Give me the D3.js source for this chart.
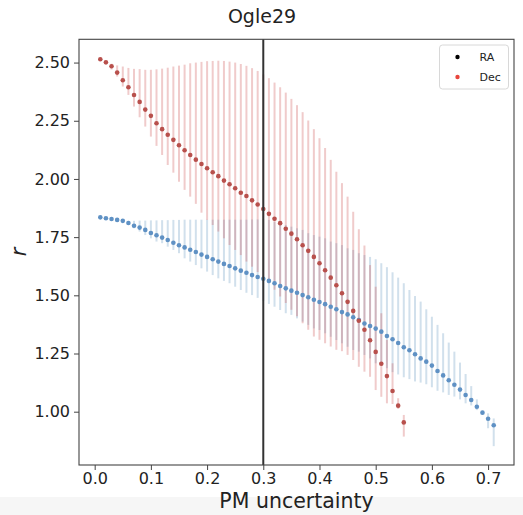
<!DOCTYPE html>
<html>
<head>
<meta charset="utf-8">
<script src="https://cdn.jsdelivr.net/npm/d3@7"></script>
<style>
  html, body { margin: 0; padding: 0; background: #ffffff; }
  svg { display: block; font-family: "DejaVu Sans", sans-serif; }
</style>
</head>
<body>
<svg id="chart" width="523" height="515"></svg>
<script>
// ---- data ----
const pmRA = d3.range(1, 72).map(i => i / 100);   // 0.01 .. 0.71
const pmDec = d3.range(1, 56).map(i => i / 100);  // 0.01 .. 0.55

const raValue = [1.835, 1.831, 1.828, 1.824, 1.820, 1.811, 1.799, 1.791, 1.781, 1.768,
  1.758, 1.748, 1.738, 1.726, 1.715, 1.706, 1.696, 1.686, 1.675, 1.665,
  1.655, 1.645, 1.635, 1.626, 1.616, 1.606, 1.597, 1.587, 1.579, 1.571,
  1.562, 1.552, 1.540, 1.530, 1.520, 1.511, 1.501, 1.492, 1.481, 1.471,
  1.462, 1.451, 1.440, 1.428, 1.418, 1.406, 1.394, 1.379, 1.368, 1.357,
  1.344, 1.325, 1.311, 1.295, 1.277, 1.264, 1.247, 1.229, 1.215, 1.198,
  1.175, 1.156, 1.135, 1.116, 1.095, 1.072, 1.050, 1.021, 0.996, 0.970, 0.942];
const raUpper = [1.835, 1.831, 1.828, 1.824, 1.822,
  1.820, 1.820, 1.821, 1.821, 1.822, 1.822, 1.823, 1.823, 1.824, 1.824,
  1.825, 1.825, 1.825, 1.825, 1.825, 1.825, 1.825, 1.825, 1.825, 1.825,
  1.825, 1.825, 1.826, 1.826, 1.826,
  1.824, 1.816, 1.810, 1.802, 1.795, 1.788, 1.781, 1.767, 1.759, 1.752,
  1.745, 1.731, 1.724, 1.716, 1.702, 1.695, 1.681, 1.673, 1.665, 1.655,
  1.638, 1.621, 1.599, 1.576, 1.552, 1.523, 1.497, 1.473, 1.440, 1.408,
  1.373, 1.337, 1.297, 1.258, 1.211, 1.162, 1.110, 1.053, 0.996, 0.993, 0.971];
const raLower = [1.835, 1.831, 1.828, 1.824, 1.815,
  1.802, 1.788, 1.774, 1.759, 1.745, 1.731, 1.724, 1.709, 1.695, 1.681,
  1.659, 1.645, 1.630, 1.616, 1.602, 1.587, 1.573, 1.562, 1.552, 1.537,
  1.523, 1.511, 1.501, 1.489, 1.476,
  1.463, 1.451, 1.437, 1.423, 1.416, 1.401, 1.387, 1.373, 1.358, 1.351,
  1.337, 1.322, 1.308, 1.294, 1.279, 1.265, 1.258, 1.244, 1.229, 1.208,
  1.200, 1.187, 1.170, 1.160, 1.148, 1.140, 1.130, 1.125, 1.118, 1.105,
  1.090, 1.083, 1.072, 1.065, 1.053, 1.036, 1.027, 1.007, 0.996, 0.929, 0.852];

const decValue = [2.514, 2.501, 2.484, 2.457, 2.424, 2.394, 2.361, 2.331, 2.298, 2.271,
  2.239, 2.214, 2.190, 2.168, 2.145, 2.123, 2.103, 2.083, 2.064, 2.046,
  2.029, 2.012, 1.993, 1.977, 1.960, 1.941, 1.927, 1.908, 1.890, 1.871,
  1.850, 1.829, 1.810, 1.786, 1.765, 1.741, 1.715, 1.691, 1.665, 1.638,
  1.608, 1.576, 1.543, 1.509, 1.472, 1.433, 1.391, 1.352, 1.307, 1.257,
  1.206, 1.153, 1.089, 1.026, 0.954];
const decUpper = [2.514, 2.501, 2.495, 2.488, 2.483, 2.477, 2.473, 2.472, 2.469, 2.469,
  2.471, 2.474, 2.478, 2.483, 2.487, 2.491, 2.497, 2.500, 2.503, 2.506,
  2.507, 2.508, 2.507, 2.504, 2.500, 2.494, 2.486, 2.476, 2.464, 2.449,
  2.433, 2.414, 2.394, 2.371, 2.344, 2.317, 2.287, 2.251, 2.214, 2.175,
  2.133, 2.082, 2.031, 1.982, 1.924, 1.859, 1.784, 1.714, 1.630, 1.537,
  1.423, 1.308, 1.208, 1.058, 0.986];
const decLower = [2.514, 2.501, 2.470, 2.440, 2.397, 2.361, 2.311, 2.265, 2.225, 2.182,
  2.142, 2.103, 2.060, 2.027, 1.988, 1.953, 1.924, 1.893, 1.855, 1.824,
  1.802, 1.774, 1.745, 1.716, 1.695, 1.673, 1.645, 1.623, 1.600, 1.580,
  1.552, 1.524, 1.495, 1.467, 1.438, 1.410, 1.380, 1.352, 1.323, 1.309,
  1.294, 1.280, 1.266, 1.260, 1.244, 1.222, 1.193, 1.172, 1.150, 1.093,
  1.064, 1.036, 1.033, 1.012, 0.893];

const xTicks = [0, 0.1, 0.2, 0.3, 0.4, 0.5, 0.6, 0.7];
const yTicks = [1.00, 1.25, 1.50, 1.75, 2.00, 2.25, 2.50];
const cutLine = 0.3;
const legendLabels = ["RA", "Dec"];

// ---- drawing ----
const svg = d3.select("#chart");
const x = d3.scaleLinear().domain([-0.0279, 0.7461]).range([79, 514]);
const y = d3.scaleLinear().domain([0.771, 2.600]).range([465, 39.3]);

svg.append("rect").attr("x", 0).attr("y", 0).attr("width", 523).attr("height", 515).attr("fill", "#fff");
svg.append("rect").attr("x", 0).attr("y", 497).attr("width", 523).attr("height", 18).attr("fill", "#f6f6f6");

const ra = pmRA.map((p, i) => ({p, v: raValue[i], lo: raLower[i], hi: raUpper[i]}));
const dec = pmDec.map((p, i) => ({p, v: decValue[i], lo: decLower[i], hi: decUpper[i]}));

const blueBar = "rgba(70,130,180,0.25)";
const redBar = "rgba(200,70,70,0.28)";
const blueDot = "#5f91c4";
const redDot = "#b8504c";

function bars(data, color) {
  svg.append("g").selectAll("line").data(data.filter(d => d.hi - d.lo > 0.001)).join("line")
    .attr("x1", d => x(d.p)).attr("x2", d => x(d.p))
    .attr("y1", d => y(d.hi)).attr("y2", d => y(d.lo))
    .attr("stroke", color).attr("stroke-width", 2);
}
function dots(data, color) {
  svg.append("g").selectAll("circle").data(data).join("circle")
    .attr("cx", d => x(d.p)).attr("cy", d => y(d.v)).attr("r", 2.3)
    .attr("fill", color);
}
bars(ra, blueBar);
bars(dec, redBar);
dots(ra, blueDot);
dots(dec, redDot);

// vertical line
svg.append("line").attr("x1", x(cutLine)).attr("x2", x(cutLine))
  .attr("y1", 39.3).attr("y2", 465).attr("stroke", "#333").attr("stroke-width", 2);

// frame
svg.append("rect").attr("x", 79).attr("y", 39.3).attr("width", 435).attr("height", 425.7)
  .attr("fill", "none").attr("stroke", "#444").attr("stroke-width", 1.1);

// axes
const xAxis = svg.append("g").attr("transform", "translate(0,465)")
  .call(d3.axisBottom(x).tickValues(xTicks).tickFormat(d3.format(".1f")).tickSize(5).tickPadding(3));
const yAxis = svg.append("g").attr("transform", "translate(79,0)")
  .call(d3.axisLeft(y).tickValues(yTicks).tickFormat(d3.format(".2f")).tickSize(5).tickPadding(4));
[xAxis, yAxis].forEach(a => {
  a.select(".domain").remove();
  a.selectAll(".tick line").attr("stroke", "#444");
  a.selectAll(".tick text").attr("fill", "#222").style("font-size", "16px")
    .style("font-family", "DejaVu Sans, sans-serif");
});

// title & labels
svg.append("text").attr("x", 262).attr("y", 23).attr("text-anchor", "middle")
  .style("font-size", "19px").attr("fill", "#222").text("Ogle29");
svg.append("text").attr("x", 296.5).attr("y", 508).attr("text-anchor", "middle")
  .style("font-size", "20.5px").attr("fill", "#222").text("PM uncertainty");
svg.append("text").attr("transform", "translate(26,252) rotate(-90)").attr("text-anchor", "middle")
  .style("font-size", "21px").style("font-style", "italic").attr("fill", "#222").text("r");

// legend
const lg = svg.append("g");
lg.append("rect").attr("x", 439.5).attr("y", 45).attr("width", 69).attr("height", 44).attr("rx", 3)
  .attr("fill", "#fff").attr("fill-opacity", 0.8).attr("stroke", "#d8d8d8");
const legendColors = ["#000000", "#e8453c"];
legendLabels.forEach((lab, i) => {
  lg.append("circle").attr("cx", 457.5).attr("cy", 57 + i * 20).attr("r", 2.2).attr("fill", legendColors[i]);
  lg.append("text").attr("x", 479.5).attr("y", 61 + i * 20).style("font-size", "11px")
    .attr("fill", "#222").text(lab);
});
</script>
</body>
</html>
